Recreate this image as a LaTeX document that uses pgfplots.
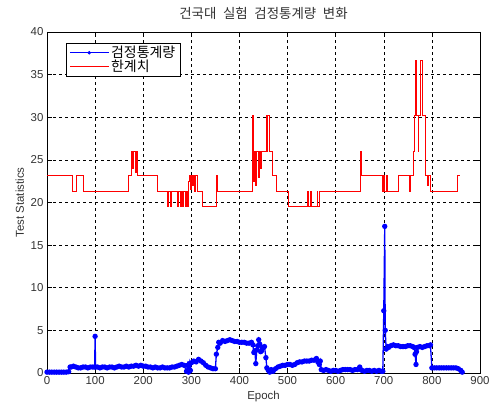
\documentclass[border=0pt]{standalone}
\usepackage{fontspec}
\setmainfont{Liberation Sans}
\newfontfamily\kr[WordSpace=2.2]{Noto Sans CJK KR}
\usepackage{pgfplots}
\pgfplotsset{compat=1.18}
\begin{document}
\begin{tikzpicture}
\begin{axis}[
  scale only axis, width=433bp, height=341bp,
  xmin=0, xmax=900, ymin=0, ymax=40,
  xtick={0,100,...,900}, ytick={0,5,...,40},
  tick align=inside, major tick length=5bp,
  grid=major, major grid style={black, dash pattern=on 3bp off 3bp, line width=0.5bp},
  axis line style={black, line width=0.6bp},
  tick style={black, line width=0.5bp},
  ticklabel style={font=\fontsize{11.5}{13}\selectfont, text=black!80},
  /pgf/number format/assume math mode=true,
  /pgf/number format/1000 sep={},
  title={건국대 실험 검정통계량 변화},
  title style={font=\kr\fontsize{13.5}{15}\selectfont, at={(0.5,1)}, anchor=base, yshift=8bp, text=black!80},
  xlabel={Epoch}, ylabel={Test Statistics},
  label style={font=\fontsize{11.5}{13}\selectfont, text=black!80},
  legend style={at={(rel axis cs:0.044,0.968)}, anchor=north west, font=\kr\fontsize{14}{15}\selectfont, draw=black, line width=0.6bp, inner xsep=3bp, inner ysep=1bp, row sep=-3bp, fill=white},
  legend cell align=left,
  legend image code/.code={\draw[mark repeat=2,mark phase=2,#1,line width=0.8bp,mark size=1.3bp] plot coordinates {(0bp,0bp) (19.5bp,0bp) (39bp,0bp)};},
]
\addplot[blue, line width=1.3bp, mark=*, mark size=2bp, mark options={solid, fill=blue}] coordinates {
(0,0.1)(5,0.1)(10,0.1)(15,0.1)(20,0.1)(25,0.1)(30,0.1)(35,0.1)(40,0.1)(45,0.15)
(48,0.7)(50,0.7)(55,0.8)(60,0.7)(65,0.6)(70,0.6)(75,0.7)(80,0.7)(85,0.6)(90,0.7)(95,0.7)(99,0.7)
(100,4.3)(101,0.7)(105,0.7)(110,0.6)(115,0.7)(120,0.7)(125,0.6)(130,0.7)(135,0.7)(140,0.6)(145,0.7)
(150,0.8)(155,0.7)(160,0.7)(165,0.8)(170,0.7)(175,0.8)(180,0.8)(185,0.9)(190,0.8)(195,0.9)(200,0.8)
(205,0.8)(210,0.7)(215,0.7)(220,0.6)(225,0.7)(230,0.6)(235,0.6)(240,0.7)(245,0.6)(250,0.6)(255,0.6)
(260,0.7)(265,0.7)(270,0.8)(275,0.9)(280,1.0)(285,0.9)(290,0.2)(292,0.9)(294,0.1)(296,1.1)(298,0.3)
(300,1.2)(305,1.4)(310,1.3)(315,1.6)(320,1.4)(325,1.2)(330,0.9)(335,0.7)(340,0.6)(345,0.5)(350,0.5)
(352,2.2)(355,3.0)(357,3.6)(360,3.5)(365,3.8)(370,3.7)(375,3.8)(380,3.9)(385,3.8)(390,3.7)(395,3.7)
(400,3.6)(405,3.6)(410,3.6)(415,3.5)(420,3.5)(425,3.6)(428,3.3)(430,2.4)(432,2.6)(434,1.1)(436,2.7)
(438,3.2)(440,3.9)(442,3.4)(444,2.5)(446,2.6)(448,3.0)(450,3.0)(452,3.1)(455,1.8)(457,0.6)(460,0.3)
(463,0.1)(466,0.4)(470,0.2)(475,0.5)(480,0.7)(485,0.8)(490,0.9)(495,0.9)(500,1.0)(505,1.0)(510,0.9)
(515,1.0)(520,1.2)(525,1.3)(530,1.3)(535,1.4)(540,1.4)(545,1.4)(550,1.5)(555,1.5)(560,1.7)(563,1.3)
(566,1.0)(568,1.4)(570,0.4)(575,0.3)(580,0.4)(585,0.3)(590,0.2)(595,0.3)(600,0.3)(605,0.2)(610,0.3)
(615,0.4)(620,0.4)(625,0.4)(630,0.4)(635,0.3)(640,0.4)(645,0.4)(650,0.7)(652,0.4)(655,0.3)(660,0.2)
(665,0.3)(670,0.3)(675,0.2)(680,0.3)(685,0.2)(690,0.3)(695,0.2)(698,0.2)(700,7.3)(702,17.2)(703,5.0)
(705,2.8)(708,3.1)(710,3.0)(715,3.2)(720,3.3)(725,3.2)(730,3.2)(735,3.1)(740,3.1)(745,3.1)(750,3.2)
(755,3.2)(760,3.1)(763,3.0)(765,2.2)(767,1.0)(768,2.5)(770,3.0)(775,3.1)(780,3.0)(785,3.1)(790,3.2)
(795,3.2)(797,3.3)(800,0.6)(805,0.6)(810,0.6)(815,0.6)(820,0.6)(825,0.6)(830,0.6)(835,0.6)(840,0.6)
(845,0.6)(850,0.6)(855,0.5)(860,0.3)(863,0.1)
};
\addlegendentry{검정통계량\hspace{8bp}}
\addplot[red, line width=0.8bp, const plot, mark=none] coordinates {
(0,23.2)(52,21.3)(62,23.2)(75,21.3)(170,23.2)(176,26)(178,24)(180,26)(183,23.5)(185,26)(187,23.2)
(229,21.3)(251,19.6)(253,21.3)(256,19.6)(258,21.3)(272,19.6)(274,21.3)(277,19.6)(279,21.3)(282,19.6)
(284,21.3)(287,19.6)(290,21.3)(292,19.6)(294,22.5)(296,23.2)(298,21.5)(300,23.2)(302,22)(304,23.2)
(307,21.3)(309,23.2)(312,21.3)(322,19.6)(351,19.6)(352,23.2)(354,21.3)(427,30.2)(429,22.5)(431,26)
(434,22)(436,26)(439,23)(441,26)(444,24)(446,26)(455,30.2)(457,26)(459,30.2)(462,26)(469,23.2)
(477,21.3)(501,19.6)(541,21.3)(543,19.6)(548,21.3)(550,19.6)(561,21.3)(563,19.6)(566,21.3)
(651,26)(653,23.2)(698,21.3)(700,23.2)(702,21.3)(705,23.2)(707,21.3)(730,23.2)(754,21.3)(756,23.2)
(761,26)(764,30.2)(766,36.7)(768,30.2)(771,26)(773,30.2)(777,36.7)(780,30.2)(786,23.2)(790,22)
(792,23.2)(797,21.3)(854,23.2)(859,23.2)
};
\addlegendentry{한계치}
\end{axis}
\pgfresetboundingbox
\path[use as bounding box] ([xshift=-47bp,yshift=-34bp]current axis.south west) rectangle ([xshift=11bp,yshift=32bp]current axis.north east);
\end{tikzpicture}
\end{document}
